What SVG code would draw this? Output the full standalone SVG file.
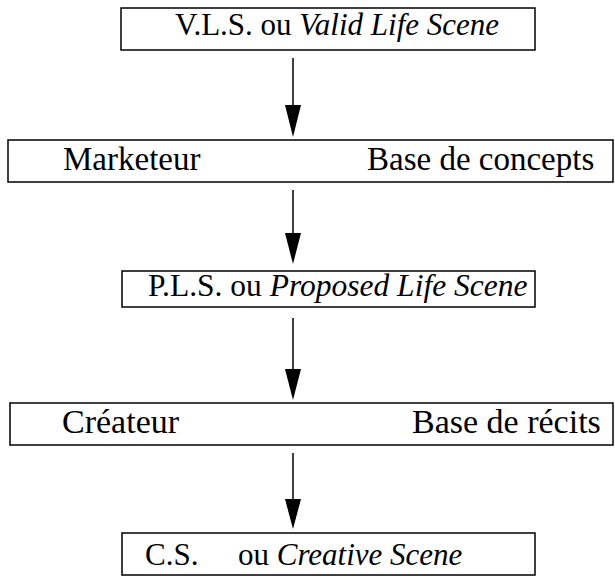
<svg xmlns="http://www.w3.org/2000/svg" width="615" height="576" viewBox="0 0 615 576">
<style>
.box{fill:#fff;stroke:#000;stroke-width:1.5}
.t{font-family:"Liberation Serif","Times New Roman",serif;fill:#000}
.i{font-style:italic}
.c{stroke:#000;stroke-width:1.5;fill:none}
.h{fill:#000}
</style>
<rect width="615" height="576" fill="#fff"/>
<g id="connectors">
<line class="c" x1="293" y1="58" x2="293" y2="108"/>
<polygon class="h" points="285,105 301,105 293,137"/>
<line class="c" x1="293" y1="190" x2="293" y2="236"/>
<polygon class="h" points="285,233 301,233 293,264"/>
<line class="c" x1="293" y1="318" x2="293" y2="372"/>
<polygon class="h" points="285,369 301,369 293,400"/>
<line class="c" x1="293" y1="453" x2="293" y2="502"/>
<polygon class="h" points="285,499 301,499 293,529"/>
</g>
<g id="vls">
<rect class="box" x="121" y="8" width="414" height="42"/>
<text class="t" x="175" y="35" font-size="31">V.L.S. ou <tspan class="i">Valid Life Scene</tspan></text>
</g>
<g id="marketeur">
<rect class="box" x="8" y="140" width="605" height="42"/>
<text class="t" x="63" y="170" font-size="33">Marketeur</text>
<text class="t" x="367" y="170" font-size="33">Base de concepts</text>
</g>
<g id="pls">
<rect class="box" x="122" y="271" width="413" height="36"/>
<text class="t" x="148" y="296" font-size="31.5">P.L.S. ou <tspan class="i">Proposed Life Scene</tspan></text>
</g>
<g id="createur">
<rect class="box" x="10" y="403" width="603" height="42"/>
<text class="t" x="62" y="433" font-size="34">Créateur</text>
<text class="t" x="412" y="433" font-size="34">Base de récits</text>
</g>
<g id="cs">
<rect class="box" x="122" y="533" width="413" height="42"/>
<text class="t" x="145" y="565" font-size="31">C.S.</text>
<text class="t" x="238" y="565" font-size="31">ou <tspan class="i">Creative Scene</tspan></text>
</g>
</svg>
